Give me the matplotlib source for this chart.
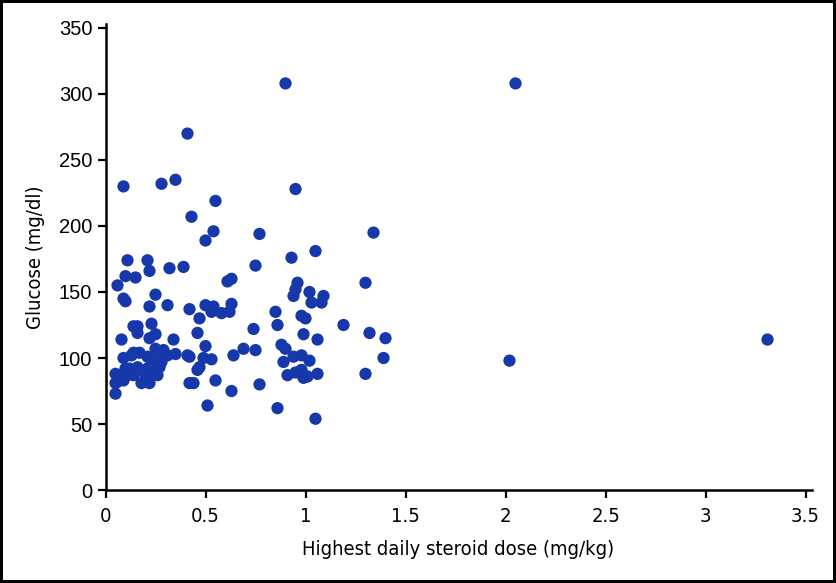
import numpy as np
import matplotlib
matplotlib.use("Agg")
import matplotlib.pyplot as plt
from matplotlib import font_manager

# Steroid dose (mg/kg) vs glucose (mg/dl)
dose = [
    0.90, 2.05, 0.41, 0.09, 0.28, 0.35, 0.95, 0.55, 0.43, 0.54,
    0.50, 0.77, 1.34, 1.05, 0.93, 0.11, 0.21, 0.22, 0.32, 0.39,
    0.75, 0.10, 0.15, 0.61, 0.63, 0.96, 1.30, 0.06, 0.95, 0.94,
    1.02, 1.09, 1.08, 1.03, 0.09, 0.10, 0.25, 0.31, 0.22, 0.42,
    0.47, 0.50, 0.54, 0.53, 0.58, 0.62, 0.63, 0.85, 0.86, 0.98,
    1.00, 1.19, 0.23, 0.14, 0.16, 0.16, 0.25, 0.46, 0.74, 0.99,
    1.06, 1.32, 1.40, 0.08, 0.22, 0.34, 0.50, 0.69, 0.75, 0.88,
    0.90, 0.42, 0.41, 0.49, 0.53, 0.64, 0.47, 0.46, 0.55, 0.42,
    0.44, 0.77, 0.63, 0.51, 0.86, 0.94, 0.98, 1.02, 0.89, 0.91,
    0.95, 0.98, 0.99, 1.01, 1.06, 1.05, 1.39, 1.30, 2.02, 3.31,
    0.09, 0.13, 0.17, 0.21, 0.25, 0.26, 0.29, 0.31, 0.35, 0.26,
    0.24, 0.28, 0.27, 0.22, 0.21, 0.16, 0.15, 0.12, 0.10, 0.11,
    0.14, 0.21, 0.26, 0.25, 0.07, 0.09, 0.05, 0.05, 0.06, 0.18,
    0.22, 0.20, 0.05, 0.14,
]
glucose = [
    308, 308, 270, 230, 232, 235, 228, 219, 207, 196,
    189, 194, 195, 181, 176, 174, 174, 166, 168, 169,
    170, 162, 161, 158, 160, 157, 157, 155, 152, 147,
    150, 147, 142, 142, 145, 143, 148, 140, 139, 137,
    130, 140, 139, 135, 134, 135, 141, 135, 125, 132,
    130, 125, 126, 124, 124, 119, 118, 119, 122, 118,
    114, 119, 115, 114, 115, 114, 109, 107, 106, 110,
    107, 101, 102, 100, 99, 102, 93, 91, 83, 81,
    81, 80, 75, 64, 62, 101, 102, 98, 97, 87,
    89, 91, 85, 86, 88, 54, 100, 88, 98, 114,
    100, 102, 104, 101, 107, 105, 106, 102, 103, 98,
    96, 97, 93, 93, 92, 93, 90, 92, 92, 87,
    87, 87, 87, 91, 86, 83, 88, 81, 82, 81,
    81, 87, 73, 104,
]

x_ticks = [0, 0.5, 1, 1.5, 2, 2.5, 3, 3.5]
x_tick_labels = ["0", "0.5", "1", "1.5", "2", "2.5", "3", "3.5"]
y_ticks = [0, 50, 100, 150, 200, 250, 300, 350]

plt.rcParams["font.family"] = ["Liberation Sans", "DejaVu Sans"]
# condensed face for the x ticks and axis titles
narrow = dict(fontfamily="DejaVu Sans", fontstretch="condensed", fontsize=14.5)

fig = plt.figure(figsize=(8.36, 5.83), dpi=100)
fig.patch.set_edgecolor("black")
fig.patch.set_linewidth(4)

ax = fig.add_axes([0.1262, 0.1595, 0.8445, 0.7993])
ax.scatter(dose, glucose, s=78, color="#1638AA", edgecolors="none", zorder=3)

ax.set_xlim(0, 3.53)
ax.set_ylim(0, 353)
ax.set_xticks(x_ticks)
ax.set_xticklabels(x_tick_labels, **narrow)
ax.set_yticks(y_ticks)
ax.tick_params(axis="y", labelsize=14.5)
ax.tick_params(direction="out", length=6, width=1.6, color="black")
ax.tick_params(axis="x", pad=6)

for side in ["top", "right"]:
    ax.spines[side].set_visible(False)
for side in ["left", "bottom"]:
    ax.spines[side].set_linewidth(1.8)

ax.set_xlabel("Highest daily steroid dose (mg/kg)", labelpad=10, **narrow)
ax.set_ylabel("Glucose (mg/dl)", labelpad=10, **narrow)

fig.savefig("out.png", dpi=100, edgecolor=fig.get_edgecolor())
